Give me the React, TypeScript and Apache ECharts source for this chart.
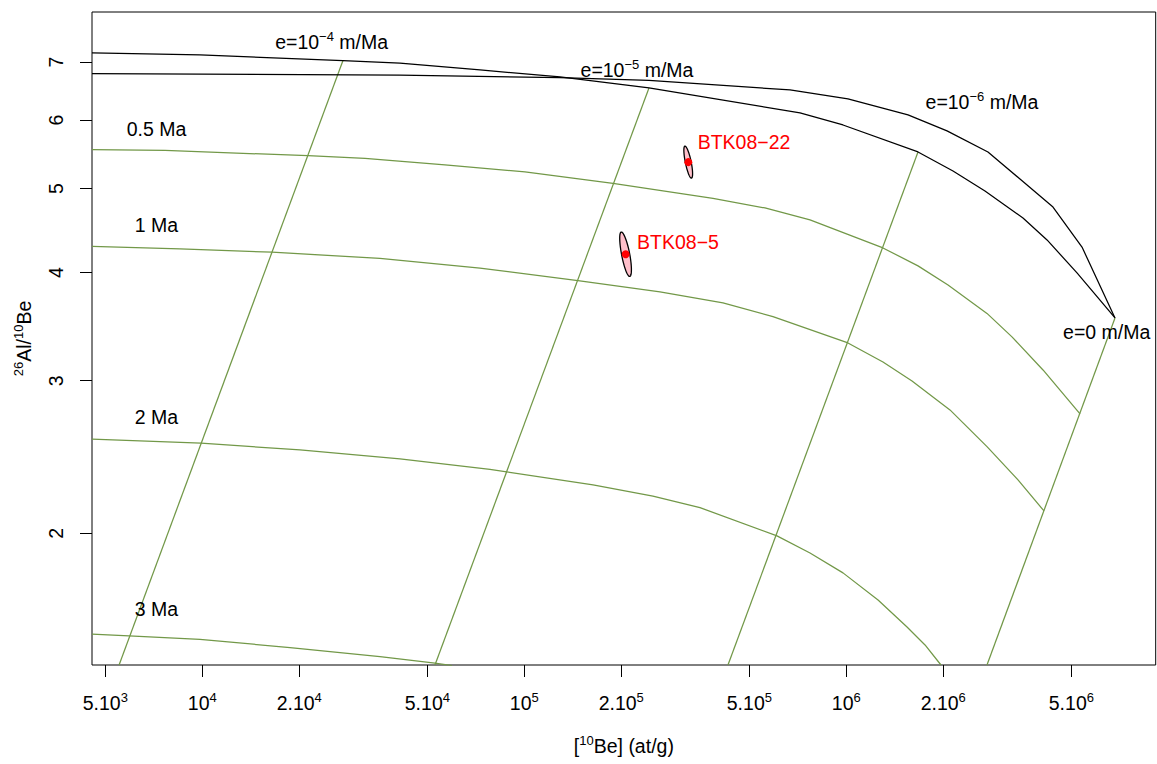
import React, { useEffect, useRef } from 'react';
import * as echarts from 'echarts';

// ---- axis ranges and ticks (raw units) ----
const X_RANGE = [4545, 9.139e6];
const Y_RANGE = [1.409, 7.995];
const X_TICKS = [5e3, 1e4, 2e4, 5e4, 1e5, 2e5, 5e5, 1e6, 2e6, 5e6];
const Y_TICKS = [2, 3, 4, 5, 6, 7];

// ---- curves: [10Be (at/g), 26Al/10Be] ----
const STEADY_EROSION: number[][] = [
  [4545, 7.172], [9837, 7.134], [27350, 7.027], [41110, 6.979], [72860, 6.855],
  [129100, 6.727], [243900, 6.534], [718300, 6.113], [976700, 5.921], [1670000, 5.511],
  [2145000, 5.24], [2696000, 4.968], [3538000, 4.624], [4202000, 4.362], [5206000, 3.996],
  [6831000, 3.545],
];
const CONSTANT_EXPOSURE: number[][] = [
  [4545, 6.788], [41110, 6.758], [129100, 6.717], [243900, 6.664], [668700, 6.499],
  [1012000, 6.345], [1555000, 6.081], [2055000, 5.829], [2754000, 5.511], [3463000, 5.128],
  [4385000, 4.76], [5396000, 4.28], [6831000, 3.545],
];
const ISO_05: number[][] = [
  [4545, 5.545], [7657, 5.533], [21290, 5.457], [32010, 5.417], [56720, 5.324],
  [100500, 5.226], [188600, 5.071], [385500, 4.87], [559100, 4.749], [771500, 4.6],
  [1300000, 4.27], [1670000, 4.071], [2070000, 3.869], [2735000, 3.588], [3270000, 3.371],
  [4083000, 3.087], [5319000, 2.747],
];
const ISO_1: number[][] = [
  [4545, 4.287], [8527, 4.259], [16460, 4.222], [35630, 4.153], [72860, 4.046],
  [146800, 3.915], [263900, 3.799], [414100, 3.69], [592000, 3.557], [1012000, 3.317],
  [1300000, 3.153], [1600000, 2.998], [2099000, 2.776], [2735000, 2.518], [3414000, 2.305],
  [4112000, 2.122],
];
const ISO_2: number[][] = [
  [4545, 2.568], [9907, 2.541], [20110, 2.496], [41110, 2.437], [78240, 2.37],
  [163500, 2.275], [250900, 2.208], [351300, 2.141], [609200, 1.986], [771500, 1.898],
  [976700, 1.8], [1255000, 1.675], [1544000, 1.559], [1756000, 1.486], [1968000, 1.409],
];
const ISO_3: number[][] = [
  [4545, 1.53], [5920, 1.522], [9837, 1.508], [18730, 1.476], [35630, 1.441],
  [52800, 1.416], [59640, 1.407],
];
const BURIAL_E4: number[][] = [[27350, 7.027], [5516, 1.409]];
const BURIAL_E5: number[][] = [[243900, 6.534], [52800, 1.409]];
const BURIAL_E6: number[][] = [[1670000, 5.511], [429100, 1.409]];
const BURIAL_E0: number[][] = [[6831000, 3.545], [2735000, 1.409]];

// ---- samples ----
const SAMPLE_NAMES = ['BTK08−5', 'BTK08−22'];
const SAMPLE_BE = [206500, 323100];
const SAMPLE_BE_ERR = [8630, 10080];
const SAMPLE_AL = [867100, 1733000];
const SAMPLE_AL_ERR = [36070, 50100];
const SAMPLE_LABEL_AT: number[][] = [[300100, 4.342], [481300, 5.656]];

// ---- annotations ----
const NOTE_TEXT = [
  'e=10{s|−4} m/Ma', 'e=10{s|−5} m/Ma', 'e=10{s|−6} m/Ma', 'e=0 m/Ma',
  '0.5 Ma', '1 Ma', '2 Ma', '3 Ma',
];
const NOTE_AT: number[][] = [
  [25220, 7.391], [223900, 6.856], [2639000, 6.3], [6437000, 3.418],
  [7207, 5.865], [7207, 4.535], [7207, 2.724], [7207, 1.637],
];

const LOG = Math.log10;
const toLog = (pts: number[][]) => pts.map(([x, y]) => [LOG(x), LOG(y)]);

const FONT = '"Liberation Sans", Arial, sans-serif';
const GREEN = '#729848';
const FS = 19.5;
const SUP = { fontSize: 13, lineHeight: 15, verticalAlign: 'top', fontFamily: FONT };

export default function App() {
  const ref = useRef<HTMLDivElement>(null);
  useEffect(() => {
    const chart = echarts.init(ref.current!, null, { renderer: 'svg' });

    const line = (data: number[][], color: string, z: number) => ({
      type: 'line',
      data: toLog(data),
      showSymbol: false,
      symbol: 'none',
      lineStyle: { color, width: 1.25, opacity: 1 },
      clip: true,
      silent: true,
      z,
    });

    const sampleData = SAMPLE_BE.map((b, i) => [LOG(b), LOG(SAMPLE_AL[i] / b)]);

    const option: any = {
      animation: false,
      backgroundColor: '#ffffff',
      grid: {
        left: 92, right: 1.3, top: 12, bottom: 99,
        show: true, borderColor: '#000', borderWidth: 1, backgroundColor: 'transparent',
      },
      xAxis: {
        type: 'value',
        min: LOG(X_RANGE[0]),
        max: LOG(X_RANGE[1]),
        axisLine: { show: false },
        splitLine: { show: false },
        axisTick: {
          show: true, length: 12, lineStyle: { color: '#000', width: 1 },
          customValues: X_TICKS.map(LOG),
        },
        axisLabel: {
          customValues: X_TICKS.map(LOG),
          margin: 26,
          color: '#000',
          fontSize: FS,
          lineHeight: 24,
          fontFamily: FONT,
          formatter: (v: number) => {
            const e = Math.floor(v + 1e-6);
            const m = Math.round(Math.pow(10, v - e));
            return m === 1 ? `10{s|${e}}` : `${m}.10{s|${e}}`;
          },
          rich: { s: SUP },
        },
        name: '[{s|10}Be] (at/g)',
        nameLocation: 'middle',
        nameGap: 69,
        nameTextStyle: { color: '#000', fontSize: FS, lineHeight: 24, fontFamily: FONT, rich: { s: SUP } },
      },
      yAxis: {
        type: 'value',
        min: LOG(Y_RANGE[0]),
        max: LOG(Y_RANGE[1]),
        axisLine: { show: false },
        splitLine: { show: false },
        axisTick: {
          show: true, length: 12, lineStyle: { color: '#000', width: 1 },
          customValues: Y_TICKS.map(LOG),
        },
        axisLabel: {
          customValues: Y_TICKS.map(LOG),
          rotate: 90,
          margin: 24,
          color: '#000',
          fontSize: FS,
          lineHeight: 24,
          fontFamily: FONT,
          formatter: (v: number) => String(Math.round(Math.pow(10, v))),
        },
        name: '{s|26}Al/{s|10}Be',
        nameLocation: 'middle',
        nameRotate: 90,
        nameGap: 53,
        nameTextStyle: { color: '#000', fontSize: FS, lineHeight: 24, fontFamily: FONT, rich: { s: SUP } },
      },
      series: [
        line(ISO_05, GREEN, 2),
        line(ISO_1, GREEN, 2),
        line(ISO_2, GREEN, 2),
        line(ISO_3, GREEN, 2),
        line(BURIAL_E4, GREEN, 2),
        line(BURIAL_E5, GREEN, 2),
        line(BURIAL_E6, GREEN, 2),
        line(BURIAL_E0, GREEN, 2),
        line(STEADY_EROSION, '#000', 3),
        line(CONSTANT_EXPOSURE, '#000', 3),
        {
          type: 'custom',
          coordinateSystem: 'cartesian2d',
          data: sampleData,
          clip: true,
          silent: true,
          z: 5,
          renderItem: (params: any, api: any) => {
            const i = params.dataIndex;
            const pts: number[][] = [];
            const n = 96;
            for (let k = 0; k < n; k++) {
              const t = (2 * Math.PI * k) / n;
              const be = SAMPLE_BE[i] + SAMPLE_BE_ERR[i] * Math.cos(t);
              const al = SAMPLE_AL[i] + SAMPLE_AL_ERR[i] * Math.sin(t);
              pts.push(api.coord([LOG(be), LOG(al / be)]));
            }
            return {
              type: 'polygon',
              shape: { points: pts },
              style: { fill: '#FFC0CB', stroke: '#000', lineWidth: 1.3 },
            };
          },
        },
        {
          type: 'scatter',
          data: sampleData,
          symbol: 'circle',
          symbolSize: 8,
          itemStyle: { color: '#FF0000', opacity: 1 },
          silent: true,
          z: 6,
        },
        {
          type: 'scatter',
          data: SAMPLE_LABEL_AT.map((p, i) => ({
            value: [LOG(p[0]), LOG(p[1])],
            label: { formatter: () => SAMPLE_NAMES[i] },
          })),
          symbolSize: 1,
          itemStyle: { color: 'rgba(0,0,0,0)', opacity: 1 },
          label: {
            show: true, position: 'inside', color: '#FF0000', fontSize: FS, lineHeight: 24,
            fontFamily: FONT, textBorderWidth: 0, opacity: 1,
          },
          silent: true,
          z: 10,
        },
        {
          type: 'scatter',
          data: NOTE_AT.map((p, i) => ({
            value: [LOG(p[0]), LOG(p[1])],
            label: { formatter: () => NOTE_TEXT[i] },
          })),
          symbolSize: 1,
          itemStyle: { color: 'rgba(0,0,0,0)', opacity: 1 },
          label: {
            show: true, position: 'inside', color: '#000', fontSize: FS, lineHeight: 24,
            fontFamily: FONT, textBorderWidth: 0, opacity: 1, rich: { s: SUP },
          },
          silent: true,
          z: 10,
        },
      ],
    };

    chart.setOption(option);
    return () => chart.dispose();
  }, []);

  return (
    <div
      ref={ref}
      style={{ position: 'absolute', left: 0, top: 0, width: 1157, height: 764, background: '#fff' }}
    />
  );
}
